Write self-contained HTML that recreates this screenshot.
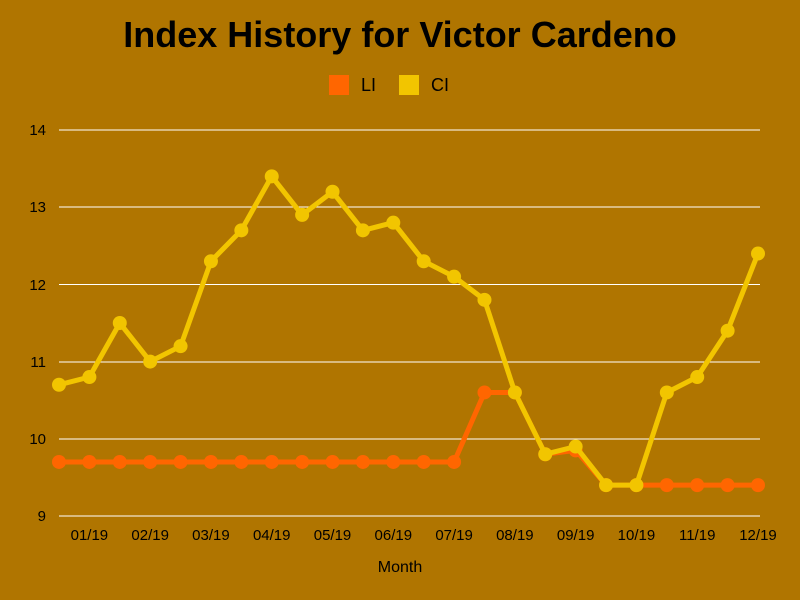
<!DOCTYPE html>
<html><head><meta charset="utf-8"><style>
html,body{margin:0;padding:0;background:#b07500;}
svg{display:block;font-family:"Liberation Sans",sans-serif;}
</style></head><body>
<svg width="800" height="600" xmlns="http://www.w3.org/2000/svg">
<rect width="800" height="600" fill="#b07500"/>
<text x="400" y="47" text-anchor="middle" font-size="36" font-weight="bold" fill="#000">Index History for Victor Cardeno</text>
<rect x="329" y="75" width="20" height="20" fill="#ff6600"/>
<text x="361" y="91" font-size="18" fill="#000">LI</text>
<rect x="399" y="75" width="20" height="20" fill="#f2c500"/>
<text x="431" y="91" font-size="18" fill="#000">CI</text>
<g stroke="#fff" stroke-width="1">
<line x1="59" x2="760" y1="130" y2="130"/><line x1="59" x2="760" y1="207" y2="207"/><line x1="59" x2="760" y1="284.5" y2="284.5"/><line x1="59" x2="760" y1="362" y2="362"/><line x1="59" x2="760" y1="439" y2="439"/><line x1="59" x2="760" y1="516" y2="516"/>
</g>
<g font-size="15" fill="#000" text-anchor="end">
<text x="46" y="135">14</text><text x="46" y="212">13</text><text x="46" y="290">12</text><text x="46" y="367">11</text><text x="46" y="444">10</text><text x="46" y="521">9</text>
</g>
<g font-size="15" fill="#000" text-anchor="middle" id="xl"></g>
<text x="400" y="572" font-size="16" text-anchor="middle" fill="#000">Month</text>
<g id="series"></g>
<script>
var ns="http://www.w3.org/2000/svg";
function X(i){return 59+i*(699/23);}
function Y(v){return 516-(v-9)*77.2;}
var xl=document.getElementById('xl');
var labels=["01/19","02/19","03/19","04/19","05/19","06/19","07/19","08/19","09/19","10/19","11/19","12/19"];
labels.forEach(function(l,k){var t=document.createElementNS(ns,'text');t.setAttribute('x',X(2*k+1));t.setAttribute('y',540);t.textContent=l;xl.appendChild(t);});
var LI=[9.7,9.7,9.7,9.7,9.7,9.7,9.7,9.7,9.7,9.7,9.7,9.7,9.7,9.7,10.6,10.6,9.8,9.85,9.4,9.4,9.4,9.4,9.4,9.4];
var CI=[10.7,10.8,11.5,11.0,11.2,12.3,12.7,13.4,12.9,13.2,12.7,12.8,12.3,12.1,11.8,10.6,9.8,9.9,9.4,9.4,10.6,10.8,11.4,12.4];
var g=document.getElementById('series');
function draw(d,c){var p=d.map(function(v,i){return X(i).toFixed(1)+','+Y(v).toFixed(1);}).join(' ');
var pl=document.createElementNS(ns,'polyline');pl.setAttribute('points',p);pl.setAttribute('fill','none');pl.setAttribute('stroke',c);pl.setAttribute('stroke-width','5');pl.setAttribute('stroke-linejoin','round');g.appendChild(pl);
d.forEach(function(v,i){var ci=document.createElementNS(ns,'circle');ci.setAttribute('cx',X(i));ci.setAttribute('cy',Y(v));ci.setAttribute('r','7');ci.setAttribute('fill',c);g.appendChild(ci);});}
draw(LI,'#ff6600');draw(CI,'#f2c500');
</script>
</svg>
</body></html>
